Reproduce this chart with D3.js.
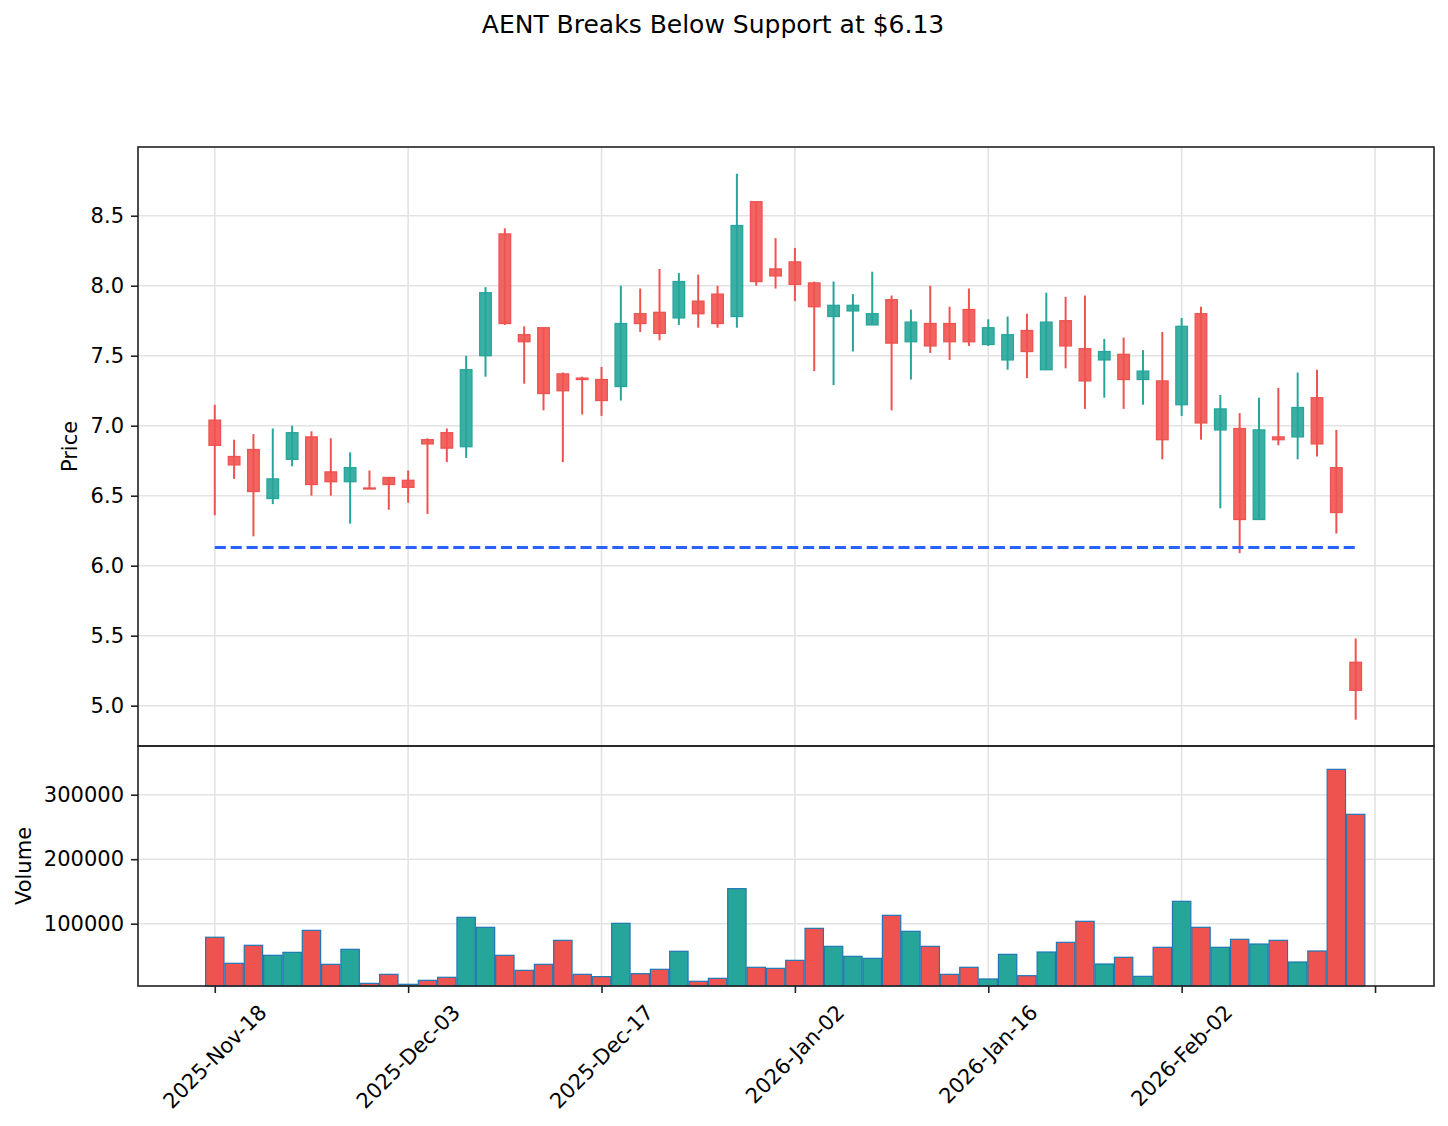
<!DOCTYPE html>
<html>
<head>
<meta charset="utf-8">
<script src="https://cdn.jsdelivr.net/npm/d3@7"></script>
<style>
  body { margin: 0; background: #fff; }
  text { font-family: "DejaVu Sans", sans-serif; fill: #000; }
</style>
</head>
<body>
<div id="chart"></div>
<script>
// trading days (one per candle)
const dates = [
  "2025-11-18","2025-11-19","2025-11-20","2025-11-21","2025-11-24","2025-11-25","2025-11-26","2025-11-28",
  "2025-12-01","2025-12-02","2025-12-03","2025-12-04","2025-12-05","2025-12-08","2025-12-09","2025-12-10",
  "2025-12-11","2025-12-12","2025-12-15","2025-12-16","2025-12-17","2025-12-18","2025-12-19","2025-12-22",
  "2025-12-23","2025-12-24","2025-12-26","2025-12-29","2025-12-30","2025-12-31","2026-01-02","2026-01-05",
  "2026-01-06","2026-01-07","2026-01-08","2026-01-09","2026-01-12","2026-01-13","2026-01-14","2026-01-15",
  "2026-01-16","2026-01-20","2026-01-21","2026-01-22","2026-01-23","2026-01-26","2026-01-27","2026-01-28",
  "2026-01-29","2026-01-30","2026-02-02","2026-02-03","2026-02-04","2026-02-05","2026-02-06","2026-02-09",
  "2026-02-10","2026-02-11","2026-02-12","2026-02-13"
];
const opens  = [7.04,6.78,6.83,6.48,6.76,6.92,6.67,6.60,6.555,6.63, 6.61,6.90,6.95,6.85,7.50,8.37,7.65,7.70,7.37,7.34,
                7.33,7.28,7.80,7.81,7.77,7.89,7.94,7.78,8.60,8.12, 8.17,8.02,7.78,7.82,7.72,7.90,7.60,7.73,7.73,7.83,
                7.58,7.47,7.68,7.40,7.75,7.55,7.47,7.51,7.33,7.32, 7.15,7.80,6.97,6.98,6.33,6.92,6.92,7.20,6.70,5.31];
const highs  = [7.15,6.90,6.94,6.98,7.00,6.96,6.91,6.81,6.68,6.63, 6.68,6.91,6.98,7.50,7.99,8.41,7.71,7.70,7.38,7.35,
                7.42,8.00,7.98,8.12,8.09,8.08,8.00,8.80,8.60,8.34, 8.27,8.03,8.03,7.94,8.10,7.93,7.83,8.00,7.85,7.98,
                7.76,7.78,7.80,7.95,7.92,7.93,7.62,7.63,7.54,7.67, 7.77,7.85,7.22,7.09,7.20,7.27,7.38,7.40,6.97,5.48];
const lows   = [6.36,6.62,6.21,6.44,6.71,6.50,6.50,6.30,6.55,6.40, 6.45,6.37,6.74,6.77,7.35,7.72,7.30,7.11,6.74,7.08,
                7.07,7.18,7.67,7.61,7.72,7.70,7.70,7.70,8.00,7.98, 7.89,7.39,7.29,7.53,7.72,7.11,7.33,7.52,7.47,7.57,
                7.57,7.40,7.34,7.40,7.41,7.12,7.20,7.12,7.15,6.76, 7.07,6.90,6.41,6.09,6.33,6.86,6.76,6.78,6.23,4.90];
const closes = [6.86,6.72,6.53,6.62,6.95,6.58,6.60,6.70,6.55,6.58, 6.56,6.87,6.84,7.40,7.95,7.73,7.60,7.23,7.25,7.33,
                7.18,7.73,7.73,7.66,8.03,7.80,7.73,8.43,8.03,8.07, 8.01,7.85,7.86,7.86,7.80,7.59,7.74,7.57,7.60,7.60,
                7.70,7.65,7.53,7.74,7.57,7.32,7.53,7.33,7.39,6.90, 7.71,7.02,7.12,6.33,6.97,6.90,7.13,6.87,6.38,5.11];
const volumes = [79000,38600,66500,51000,55600,89700,37000,60300,7500,21500,
                 6000,12200,16900,109900,94400,51000,27700,37000,74200,21500,
                 17900,100600,22500,29300,57200,10700,15300,154300,32400,30800,
                 43200,92800,64900,49400,46300,113000,88200,64900,21500,32400,
                 14300,52500,19400,56100,71100,103700,37500,47900,18400,63400,
                 134700,94400,63400,75800,68500,74200,40600,57700,339300,269600];
const supportLevel = 6.13;
const priceTicks = [5.0, 5.5, 6.0, 6.5, 7.0, 7.5, 8.0, 8.5];
const volumeTicks = [100000, 200000, 300000];
const dateTicks = [0, 10, 20, 30, 40, 50, 60];
const titleText = "AENT Breaks Below Support at $6.13";

const width = 1448, height = 1126;
const upColor = "#26a69a", downColor = "#ef5350";
const left = 138, right = 1434;
const priceTop = 147, priceBottom = 746, volBottom = 986;
const tickFont = 21;

const candles = dates.map((d, i) => ({
  i, date: d3.timeParse("%Y-%m-%d")(d),
  o: opens[i], h: highs[i], l: lows[i], c: closes[i], v: volumes[i]
}));

const svg = d3.select("#chart").append("svg")
  .attr("width", width).attr("height", height);

const x = d3.scaleLinear().domain([-3.97, 63.05]).range([left, right]);
const yP = d3.scaleLinear().domain([4.712, 8.991]).range([priceBottom, priceTop]);
const yV = d3.scaleLinear().domain([3410, 375500]).range([volBottom, priceBottom]);
const step = x(1) - x(0);

// grids
function grid(y0, y1, yScale, yTicks) {
  const g = svg.append("g").attr("stroke", "#e3e3e3").attr("stroke-width", 1.6);
  g.selectAll(".gx").data(dateTicks).enter().append("line")
    .attr("x1", d => x(d)).attr("x2", d => x(d)).attr("y1", y0).attr("y2", y1);
  g.selectAll(".gy").data(yTicks).enter().append("line")
    .attr("x1", left).attr("x2", right).attr("y1", d => yScale(d)).attr("y2", d => yScale(d));
}
grid(priceTop, priceBottom, yP, priceTicks);
grid(priceBottom, volBottom, yV, volumeTicks);

// candles
const cg = svg.append("g");
const col = d => d.c >= d.o ? upColor : downColor;
cg.selectAll(".wick").data(candles).enter().append("line")
  .attr("x1", d => x(d.i)).attr("x2", d => x(d.i))
  .attr("y1", d => yP(d.h)).attr("y2", d => yP(d.l))
  .attr("stroke", col).attr("stroke-width", 2);
const bw = step * 0.6;
cg.selectAll(".body").data(candles).enter().append("rect")
  .attr("x", d => x(d.i) - bw / 2).attr("width", bw)
  .attr("y", d => yP(Math.max(d.o, d.c)))
  .attr("height", d => Math.max(1, Math.abs(yP(d.o) - yP(d.c))))
  .attr("fill", col).attr("fill-opacity", 0.9)
  .attr("stroke", col).attr("stroke-width", 1.3);

// support line
svg.append("line")
  .attr("x1", x(0)).attr("x2", x(dates.length - 1))
  .attr("y1", yP(supportLevel)).attr("y2", yP(supportLevel))
  .attr("stroke", "#2962ff").attr("stroke-width", 2.8)
  .attr("stroke-dasharray", "11.1,4.8");

// volume bars
const vw = step * 0.95;
svg.append("g").selectAll("rect").data(candles).enter().append("rect")
  .attr("x", d => x(d.i) - vw / 2).attr("width", vw)
  .attr("y", d => yV(d.v)).attr("height", d => volBottom - yV(d.v))
  .attr("fill", col).attr("stroke", "#1f77b4").attr("stroke-width", 1.2);

// axes
const fmtP = d3.format(".1f");
const yAxisP = svg.append("g").attr("transform", `translate(${left},0)`)
  .call(d3.axisLeft(yP).tickValues(priceTicks).tickFormat(fmtP).tickSizeOuter(0).tickSize(7).tickPadding(7));
const yAxisV = svg.append("g").attr("transform", `translate(${left},0)`)
  .call(d3.axisLeft(yV).tickValues(volumeTicks).tickFormat(d3.format("d")).tickSizeOuter(0).tickSize(7).tickPadding(7));
const xAxis = svg.append("g").attr("transform", `translate(0,${volBottom})`)
  .call(d3.axisBottom(x).tickValues(dateTicks).tickFormat("").tickSizeOuter(0).tickSize(7));
[yAxisP, yAxisV, xAxis].forEach(a => {
  a.select(".domain").remove();
  a.selectAll(".tick line").attr("stroke", "#222").attr("stroke-width", 1.6);
  a.selectAll("text").attr("font-size", tickFont).attr("font-family", "DejaVu Sans").attr("fill", "#000");
});

// rotated date labels, bbox centred on the tick like matplotlib
const fmtD = d3.timeFormat("%Y-%b-%d");
const labelTop = volBottom + 14;
dateTicks.filter(t => t < candles.length).forEach(t => {
  const txt = svg.append("text")
    .attr("font-size", tickFont).attr("text-anchor", "middle").attr("dy", "0.35em")
    .text(fmtD(candles[t].date));
  const L = txt.node().getComputedTextLength();
  const half = (L + 24) / (2 * Math.SQRT2);
  txt.attr("transform", `translate(${x(t)},${labelTop + half}) rotate(-45)`);
});

// frames
svg.append("rect").attr("x", left).attr("y", priceTop).attr("width", right - left)
  .attr("height", priceBottom - priceTop).attr("fill", "none").attr("stroke", "#222").attr("stroke-width", 1.6);
svg.append("rect").attr("x", left).attr("y", priceBottom).attr("width", right - left)
  .attr("height", volBottom - priceBottom).attr("fill", "none").attr("stroke", "#222").attr("stroke-width", 1.6);

// labels
svg.append("text").attr("x", 713).attr("y", 33).attr("text-anchor", "middle")
  .attr("font-size", 25).text(titleText);
svg.append("text").attr("transform", `translate(77,${(priceTop + priceBottom) / 2}) rotate(-90)`)
  .attr("text-anchor", "middle").attr("font-size", tickFont).text("Price");
svg.append("text").attr("transform", `translate(31,${(priceBottom + volBottom) / 2}) rotate(-90)`)
  .attr("text-anchor", "middle").attr("font-size", tickFont).text("Volume");
</script>
</body>
</html>
